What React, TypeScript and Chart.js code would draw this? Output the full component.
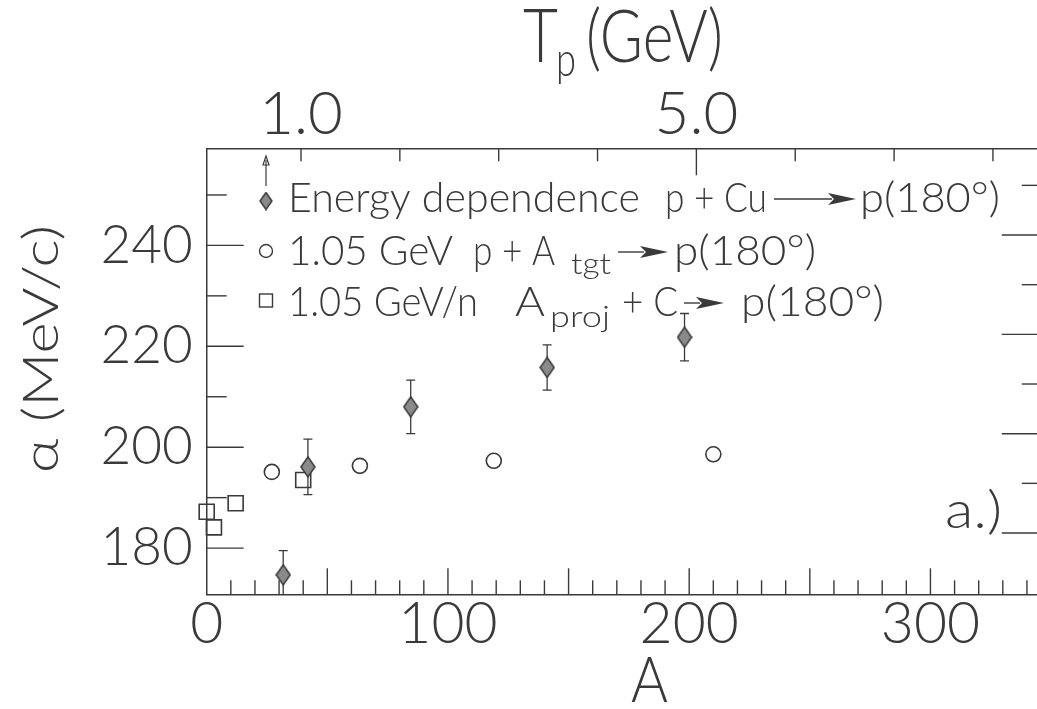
import React, { useEffect, useRef } from "react";
import { Chart, registerables } from "chart.js";

Chart.register(...registerables);

const FONT = "Lato, 'DejaVu Sans', sans-serif";
const INK = "#3a3a3a";

// ---- data ----
// 1.05 GeV p + A_tgt -> p(180°)
const tgtMass = [27, 63.5, 119, 210];
const tgtAlpha = [195.1, 196.3, 197.3, 198.6];
// 1.05 GeV/n A_proj + C -> p(180°)
const projMass = [0, 3, 12, 40];
const projAlpha = [187.2, 184.1, 188.9, 193.5];
// Energy dependence p + Cu -> p(180°) (top axis, Tp in GeV)
const beamEnergy = [0.82, 1.07, 2.11, 3.49, 4.88];
const energyAlpha = [174.7, 196.1, 208.0, 215.8, 221.8];
const energyErr = [4.8, 5.5, 5.3, 4.5, 4.7];

// ---- tick labels ----
const massTicks = [0, 100, 200, 300];
const energyTicks = [1, 5];
const alphaTicks = [180, 200, 220, 240];

function makeDiamond(w: number, h: number) {
  const c = document.createElement("canvas");
  c.width = w;
  c.height = h;
  const g = c.getContext("2d")!;
  g.beginPath();
  g.moveTo(w / 2, 1);
  g.lineTo(w - 1, h / 2);
  g.lineTo(w / 2, h - 1);
  g.lineTo(1, h / 2);
  g.closePath();
  g.fillStyle = "#8a8a8a";
  g.fill();
  g.lineWidth = 1.5;
  g.strokeStyle = INK;
  g.stroke();
  return c;
}

function fitText(
  ctx: CanvasRenderingContext2D,
  s: string,
  x: number,
  y: number,
  size: number,
  width?: number
) {
  ctx.font = `300 ${size}px ${FONT}`;
  const w = ctx.measureText(s).width;
  ctx.save();
  ctx.translate(x, y);
  if (width) ctx.scale(width / w, 1);
  ctx.fillText(s, 0, 0);
  ctx.restore();
  return x + (width || w);
}

function arrow(ctx: CanvasRenderingContext2D, x1: number, x2: number, y: number) {
  const head = 28;
  ctx.beginPath();
  ctx.moveTo(x1, y);
  ctx.lineTo(x2 - head + 4, y);
  ctx.lineWidth = 1.4;
  ctx.stroke();
  ctx.beginPath();
  ctx.moveTo(x2, y);
  ctx.lineTo(x2 - head, y - 6);
  ctx.lineTo(x2 - head + 6, y);
  ctx.lineTo(x2 - head, y + 6);
  ctx.closePath();
  ctx.fill();
}

export default function App() {
  const ref = useRef<HTMLCanvasElement>(null);

  useEffect(() => {
    document.body.style.margin = "0";
    const diamond = makeDiamond(16, 22);
    const legendDiamond = makeDiamond(14, 19);

    const decor = {
      id: "decor",
      beforeDatasetsDraw(chart: any) {
        const ctx = chart.ctx;
        const { x2, y } = chart.scales;
        const a = chart.chartArea;
        ctx.save();
        ctx.beginPath();
        ctx.rect(a.left, a.top, a.right - a.left, a.bottom - a.top);
        ctx.clip();
        ctx.strokeStyle = INK;
        ctx.lineWidth = 1.3;
        beamEnergy.forEach((e, i) => {
          const px = x2.getPixelForValue(e);
          const top = y.getPixelForValue(energyAlpha[i] + energyErr[i]);
          const bot = y.getPixelForValue(energyAlpha[i] - energyErr[i]);
          ctx.beginPath();
          ctx.moveTo(px, top);
          ctx.lineTo(px, bot);
          ctx.moveTo(px - 4.5, top);
          ctx.lineTo(px + 4.5, top);
          ctx.moveTo(px - 4.5, bot);
          ctx.lineTo(px + 4.5, bot);
          ctx.stroke();
        });
        ctx.restore();
      },
      afterDraw(chart: any) {
        const ctx = chart.ctx;
        const { x, x2, y, y2 } = chart.scales;
        const a = chart.chartArea;
        ctx.save();
        ctx.strokeStyle = INK;
        ctx.fillStyle = INK;
        ctx.lineWidth = 1.4;
        const line = (x1: number, y1: number, xx: number, yy: number) => {
          ctx.beginPath();
          ctx.moveTo(x1, y1);
          ctx.lineTo(xx, yy);
          ctx.stroke();
        };
        // inward tick marks
        for (let v = 10; v <= 340; v += 10) {
          const px = x.getPixelForValue(v);
          line(px, a.bottom, px, a.bottom - (v % 50 === 0 ? 26 : 14));
        }
        for (let v = 1; v <= 8; v++) {
          const px = x2.getPixelForValue(v);
          line(px, a.top, px, a.top + (v === 5 ? 27 : 13));
        }
        for (let v = 180; v <= 250; v += 10) {
          const major = v % 20 === 0;
          const py = y.getPixelForValue(v);
          line(a.left, py, a.left + (major ? 37 : 20), py);
          const qy = y2.getPixelForValue(v);
          line(a.right, qy, a.right - (major ? 36 : 16), qy);
        }

        // axis titles
        ctx.textBaseline = "alphabetic";
        ctx.textAlign = "left";
        fitText(ctx, "T", 523, 62, 74, 35);
        fitText(ctx, "p", 556, 76, 48, 20);
        fitText(ctx, "(GeV)", 586, 62, 72, 137);
        fitText(ctx, "A", 631, 702, 64, 37);
        ctx.save();
        ctx.translate(58, 473);
        ctx.rotate(-Math.PI / 2);
        fitText(ctx, "α (MeV/c)", 0, 0, 50, 248);
        ctx.restore();

        // panel label
        fitText(ctx, "a.)", 945, 528, 52, 57);

        // legend
        // row 1
        ctx.lineWidth = 1.2;
        line(266, 186, 266, 160);
        ctx.beginPath();
        ctx.moveTo(266, 156);
        ctx.lineTo(263, 165);
        ctx.lineTo(269, 165);
        ctx.closePath();
        ctx.stroke();
        ctx.drawImage(legendDiamond, 266 - 7, 201 - 9.5);
        fitText(ctx, "Energy dependence", 288, 212, 42, 352);
        fitText(ctx, "p + Cu", 665, 212, 42, 102);
        arrow(ctx, 774, 856, 199);
        fitText(ctx, "p(180°)", 860, 212, 42, 140);
        // row 2
        ctx.lineWidth = 1.4;
        ctx.beginPath();
        ctx.arc(266, 251, 6.5, 0, Math.PI * 2);
        ctx.stroke();
        fitText(ctx, "1.05 GeV", 288, 265, 42, 165);
        fitText(ctx, "p + A", 473, 265, 42, 82);
        fitText(ctx, "tgt", 571, 274, 30, 40);
        arrow(ctx, 618, 668, 252);
        fitText(ctx, "p(180°)", 674, 265, 42, 142);
        // row 3
        ctx.lineWidth = 1.4;
        ctx.strokeRect(259.5, 294, 13, 13);
        fitText(ctx, "1.05 GeV/n", 288, 316, 42, 190);
        fitText(ctx, "A", 515, 316, 42, 30);
        fitText(ctx, "proj", 550, 327, 30, 60);
        fitText(ctx, "+ C", 622, 316, 42, 56);
        arrow(ctx, 684, 724, 303);
        fitText(ctx, "p(180°)", 741, 316, 42, 143);
        ctx.restore();
      },
    };

    const tickFont = (size: number) => ({ family: FONT, size, weight: "300", lineHeight: 1 });

    const chart = new Chart(ref.current!, {
      type: "scatter",
      data: {
        datasets: [
          {
            label: "Energy dependence p + Cu → p(180°)",
            xAxisID: "x2",
            yAxisID: "y",
            data: beamEnergy.map((e, i) => ({ x: e, y: energyAlpha[i] })),
            pointStyle: diamond as any,
            clip: false as any,
          },
          {
            label: "1.05 GeV p + A_tgt → p(180°)",
            xAxisID: "x",
            yAxisID: "y",
            data: tgtMass.map((m, i) => ({ x: m, y: tgtAlpha[i] })),
            pointStyle: "circle",
            pointRadius: 7.5,
            pointBorderWidth: 1.6,
            pointBorderColor: INK,
            pointBackgroundColor: "rgba(255,255,255,0)",
            clip: false as any,
          },
          {
            label: "1.05 GeV/n A_proj + C → p(180°)",
            xAxisID: "x",
            yAxisID: "y",
            data: projMass.map((m, i) => ({ x: m, y: projAlpha[i] })),
            pointStyle: "rect",
            pointRadius: 10.6,
            pointBorderWidth: 1.6,
            pointBorderColor: INK,
            pointBackgroundColor: "rgba(255,255,255,0)",
            clip: false as any,
          },
        ],
      },
      options: {
        responsive: false,
        animation: false,
        layout: { padding: 0 },
        plugins: { legend: { display: false }, tooltip: { enabled: false } },
        scales: {
          x: {
            type: "linear",
            position: "bottom",
            min: 0,
            max: 344.5,
            afterFit: (s: any) => {
              s.height = 114.7;
            },
            afterBuildTicks: (s: any) => {
              s.ticks = massTicks.map((v) => ({ value: v }));
            },
            grid: { drawOnChartArea: false, drawTicks: false },
            border: { display: true, color: INK, width: 1.5 },
            ticks: { font: tickFont(57), color: INK, padding: 2, maxRotation: 0, autoSkip: false },
          },
          x2: {
            type: "linear",
            position: "top",
            min: 0.046,
            max: 8.454,
            afterFit: (s: any) => {
              s.height = 148.3;
            },
            afterBuildTicks: (s: any) => {
              s.ticks = energyTicks.map((v) => ({ value: v }));
            },
            grid: { drawOnChartArea: false, drawTicks: false },
            border: { display: true, color: INK, width: 1.5 },
            ticks: {
              font: tickFont(60),
              color: INK,
              padding: 4,
              maxRotation: 0,
              autoSkip: false,
              callback: (v: any) => Number(v).toFixed(1),
            },
          },
          y: {
            type: "linear",
            position: "left",
            min: 170.84,
            max: 259.25,
            afterFit: (s: any) => {
              s.width = 206.7;
            },
            afterBuildTicks: (s: any) => {
              s.ticks = alphaTicks.map((v) => ({ value: v }));
            },
            grid: { drawOnChartArea: false, drawTicks: false },
            border: { display: true, color: INK, width: 1.5 },
            ticks: { font: tickFont(53), color: INK, padding: 14 },
          },
          y2: {
            type: "linear",
            position: "right",
            min: 167.66,
            max: 257.46,
            afterFit: (s: any) => {
              s.width = 6;
            },
            grid: { drawOnChartArea: false, drawTicks: false },
            border: { display: true, color: INK, width: 1.5 },
            ticks: { display: false },
          },
        },
      } as any,
      plugins: [decor],
    });
    return () => chart.destroy();
  }, []);

  return (
    <div style={{ width: 1037, height: 709, overflow: "hidden", position: "relative", background: "#fff" }}>
      <canvas ref={ref} width={1050} height={709} style={{ display: "block" }} />
    </div>
  );
}
